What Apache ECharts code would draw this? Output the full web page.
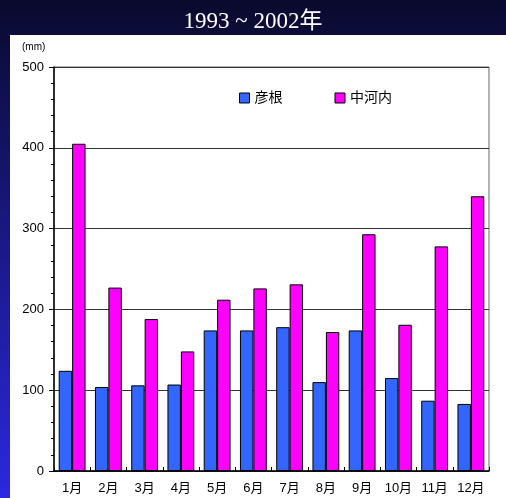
<!DOCTYPE html>
<html><head><meta charset="utf-8">
<script src="https://cdn.jsdelivr.net/npm/echarts@6/dist/echarts.min.js"></script>
<style>html,body{margin:0;padding:0;}#c{width:506px;height:498px;}</style>
</head><body><div id="c"></div>
<script>
const categories = ['1月','2月','3月','4月','5月','6月','7月','8月','9月','10月','11月','12月'];
const hikone = [124, 104, 106, 107, 174, 174, 178, 110, 174, 115, 87, 83];
const nakakawachi = [405, 227, 188, 148, 212, 226, 231, 172, 293, 181, 278, 340];
const seriesNames = ['彦根', '中河内'];
const titleText = '1993 ~ 2002年';
const unitText = '(mm)';

const chart = echarts.init(document.getElementById('c'), null, {renderer:'canvas'});
const sans = 'Liberation Sans, Arial, "Noto Sans CJK JP", sans-serif';
chart.setOption({
  animation: false,
  backgroundColor: {type:'linear', x:0, y:0, x2:0, y2:1, colorStops:[{offset:0,color:'#0a0a2e'},{offset:1,color:'#2b28e0'}]},
  graphic: [
    {type:'rect', left:10, top:35, z:-10, shape:{width:496, height:463}, style:{fill:'#ffffff'}},
    {type:'text', left:22, top:42, style:{text:unitText, font:'10px ' + sans, fill:'#000'}}
  ],
  title: {text:titleText, left:'center', top:5, textStyle:{color:'#ffffff', fontFamily:'"Liberation Serif", "Times New Roman", "Noto Sans CJK JP", serif', fontWeight:'normal', fontSize:23}},
  legend: {left:234, top:86, itemWidth:10, itemHeight:10, itemGap:52, icon:'rect',
    textStyle:{fontSize:14, color:'#000', fontFamily:sans},
    data: seriesNames.map(n=>({name:n, itemStyle:{borderColor:'#000', borderWidth:1}}))},
  grid: {left:54, top:67, width:435, height:404, show:true, borderColor:'#666', borderWidth:1, backgroundColor:'transparent'},
  xAxis: {type:'category', data:categories,
    axisLine:{lineStyle:{color:'#000', width:1.5}},
    axisTick:{show:true, inside:true, length:4, lineStyle:{color:'#000'}},
    axisLabel:{color:'#000', fontSize:13, margin:11, fontFamily:sans}},
  yAxis: {type:'value', min:0, max:500, interval:100,
    axisLine:{show:true, lineStyle:{color:'#000', width:1.5}},
    axisTick:{show:true, length:5, lineStyle:{color:'#000'}},
    minorTick:{show:true, splitNumber:5, length:3, lineStyle:{color:'#000'}},
    splitLine:{show:true, lineStyle:{color:'#333', width:1}},
    axisLabel:{color:'#000', fontSize:13, margin:10, fontFamily:sans}},
  series: [
    {name:seriesNames[0], type:'bar', data:hikone, barGap:'0%', barCategoryGap:'26%',
      itemStyle:{color:'#3366ff', borderColor:'#000', borderWidth:1}},
    {name:seriesNames[1], type:'bar', data:nakakawachi, barGap:'0%', barCategoryGap:'26%',
      itemStyle:{color:'#ff00ff', borderColor:'#000', borderWidth:1}}
  ]
});
</script></body></html>
